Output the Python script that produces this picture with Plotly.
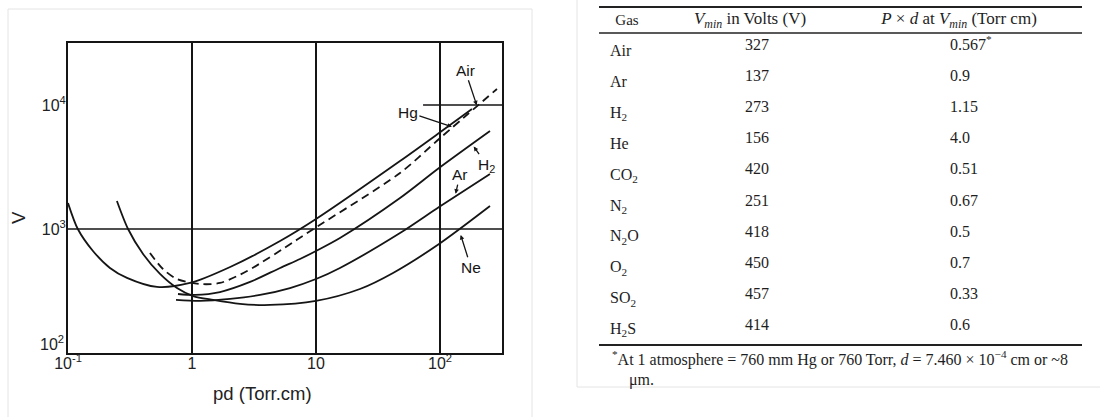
import numpy as np
import plotly.graph_objects as go

# ---------------- Paschen curves ----------------
air_pd = [0.10, 0.12, 0.159, 0.218, 0.299, 0.522, 0.963, 2.03, 5.13, 10.0, 47.6, 98.2, 181]
air_v = [1620, 1000, 665, 485, 403, 341, 367, 494, 800, 1204, 3535, 5946, 9284]

hg_pd = [0.458, 0.583, 0.757, 1.16, 1.68, 2.78, 6.77, 9.81, 47.6, 98.2, 288]
hg_v = [640, 476, 395, 360, 367, 458, 800, 1019, 2829, 5319, 13460]

h2_pd = [0.771, 1.057, 1.68, 2.94, 5.13, 7.43, 10.0, 15.6, 47.6, 98.2, 253]
h2_v = [299, 294, 310, 374, 485, 573, 665, 846, 1778, 3104, 6171]

ar_pd = [0.743, 1.16, 2.03, 3.54, 6.17, 10.0, 15.6, 47.6, 98.2, 253]
ar_v = [268, 263, 273, 294, 334, 395, 485, 928, 1504, 2776]

ne_pd = [0.248, 0.305, 0.403, 0.552, 0.757, 1.02, 1.48, 2.44, 4.26, 10.0, 22.6, 41.8, 98.2, 253]
ne_v = [1682, 1000, 628, 434, 334, 288, 268, 249, 244, 263, 328, 442, 757, 1532]

x_tickvals = [0.1, 1, 10, 100]
x_ticktext = ["10<sup>-1</sup>", "1", "10", "10<sup>2</sup>"]
y_tickvals = [1000, 10000]
y_ticktext = ["10<sup>3</sup>", "10<sup>4</sup>"]
y_bottom_label = "10<sup>2</sup>"

# ---------------- Table data ----------------
gases = ["Air", "Ar", "H<sub>2</sub>", "He", "CO<sub>2</sub>", "N<sub>2</sub>",
         "N<sub>2</sub>O", "O<sub>2</sub>", "SO<sub>2</sub>", "H<sub>2</sub>S"]
vmin_volts = [327, 137, 273, 156, 420, 251, 418, 450, 457, 414]
pd_at_vmin = ["0.567<sup>*</sup>", "0.9", "1.15", "4.0", "0.51", "0.67", "0.5", "0.7", "0.33", "0.6"]
headers = ["Gas", "<i>V</i><sub><i>min</i></sub> in Volts (V)",
           "<i>P</i> × <i>d</i> at <i>V</i><sub><i>min</i></sub> (Torr cm)"]
footnote_1 = "<sup>*</sup>At 1 atmosphere = 760 mm Hg or 760 Torr, <i>d</i> = 7.460 × 10<sup>−4</sup> cm or ~8"
footnote_2 = "μm."

W, H = 1100, 417
INK = "#151515"
SANS = "Liberation Sans, Arial, sans-serif"
SERIF = "Liberation Serif, Times New Roman, serif"

fig = go.Figure()

curves = [
    ("Air", air_pd, air_v, "solid"),
    ("Hg", hg_pd, hg_v, "8px,5px"),
    ("H2", h2_pd, h2_v, "solid"),
    ("Ar", ar_pd, ar_v, "solid"),
    ("Ne", ne_pd, ne_v, "solid"),
]
for name, xs, ys, dash in curves:
    fig.add_trace(go.Scatter(
        x=xs, y=ys, mode="lines", name=name,
        line=dict(color=INK, width=1.8, dash=dash, shape="spline", smoothing=0.8),
        xaxis="x", yaxis="y", showlegend=False, hoverinfo="skip"))

# ---------------- Table as text on a pixel-mapped helper axis ----------------
n = len(gases)
rows = np.arange(n)
name_y = 52 + 30.9 * rows
val_y = 45.5 + 31.2 * rows
tfont = dict(family=SERIF, size=16, color="#1e1e1e")
fig.add_trace(go.Scatter(x=[610] * n, y=name_y, text=gases, mode="text",
                         textposition="middle right", textfont=tfont,
                         xaxis="x2", yaxis="y2", showlegend=False, hoverinfo="skip"))
fig.add_trace(go.Scatter(x=[745] * n, y=val_y, text=[str(v) for v in vmin_volts], mode="text",
                         textposition="middle right", textfont=tfont,
                         xaxis="x2", yaxis="y2", showlegend=False, hoverinfo="skip"))
fig.add_trace(go.Scatter(x=[950] * n, y=val_y, text=pd_at_vmin, mode="text",
                         textposition="middle right", textfont=tfont,
                         xaxis="x2", yaxis="y2", showlegend=False, hoverinfo="skip"))
fig.add_trace(go.Scatter(x=[627, 750, 959], y=[21, 20, 20], text=headers, mode="text",
                         textposition="middle center",
                         textfont=dict(family=SERIF, size=[15, 17, 17], color="#1e1e1e"),
                         xaxis="x2", yaxis="y2", showlegend=False, hoverinfo="skip"))

shapes = []
# table rules
for yy, wdt in [(7, 2), (33, 1.5), (345, 2)]:
    shapes.append(dict(type="line", xref="x2", yref="y2", x0=599, x1=1082, y0=yy, y1=yy,
                       line=dict(color="#222", width=wdt)))
# faint image frames
frame = dict(color="#e4e4e4", width=1)
shapes += [
    dict(type="line", xref="x2", yref="y2", x0=8, x1=8, y0=9, y1=417, line=frame),
    dict(type="line", xref="x2", yref="y2", x0=8, x1=532, y0=9, y1=9, line=frame),
    dict(type="line", xref="x2", yref="y2", x0=532, x1=532, y0=9, y1=417, line=frame),
    dict(type="line", xref="x2", yref="y2", x0=577, x1=577, y0=0, y1=387, line=frame),
    dict(type="line", xref="x2", yref="y2", x0=577, x1=1100, y0=387, y1=387, line=frame),
]
# horizontal reference lines of the chart
y_lo, y_hi = 2, 4.5
x_lo, x_hi = -1, 2.5
shapes.append(dict(type="line", xref="x domain", yref="y domain", x0=0, x1=1,
                   y0=(3 - y_lo) / (y_hi - y_lo), y1=(3 - y_lo) / (y_hi - y_lo),
                   line=dict(color=INK, width=1.5)))
shapes.append(dict(type="line", xref="x domain", yref="y domain",
                   x0=(np.log10(73) - x_lo) / (x_hi - x_lo), x1=1,
                   y0=(4 - y_lo) / (y_hi - y_lo), y1=(4 - y_lo) / (y_hi - y_lo),
                   line=dict(color=INK, width=1.5)))


def on_curve(xs, ys, pd):
    return float(np.interp(np.log10(pd), np.log10(xs), np.log10(ys)))


annotations = []
labels = [
    ("Air", hg_pd, hg_v, 199, -12, -36, 1),
    ("Hg", hg_pd, hg_v, 127, -45, -15, 1),
    ("H<sub>2</sub>", h2_pd, h2_v, 181, 15, 21, 3),
    ("Ar", ar_pd, ar_v, 132, 5, -22, 3),
    ("Ne", ne_pd, ne_v, 142, 12, 38, 6),
]
for txt, xs, ys, pd, ax, ay, so in labels:
    annotations.append(dict(
        x=np.log10(pd), y=on_curve(xs, ys, pd), xref="x", yref="y",
        text=txt, showarrow=True, ax=ax, ay=ay, arrowhead=2, arrowsize=0.7,
        arrowwidth=1.3, arrowcolor=INK, standoff=so,
        font=dict(family=SANS, size=15.5, color=INK)))

annotations += [
    # bottom y tick label, sitting slightly above the x axis as in the original
    dict(x=0, y=0, xref="x domain", yref="y domain", text=y_bottom_label, showarrow=False,
         xanchor="right", yanchor="bottom", xshift=-2, yshift=-2,
         font=dict(family=SANS, size=16, color="#222")),
    dict(x=262, y=393, xref="x2", yref="y2", text="pd (Torr.cm)", showarrow=False,
         font=dict(family=SANS, size=18.5, color="#222")),
    dict(x=18, y=218, xref="x2", yref="y2", text="V", showarrow=False, textangle=-90,
         font=dict(family=SANS, size=18.5, color="#222")),
    dict(x=610, y=358, xref="x2", yref="y2", text=footnote_1, showarrow=False,
         xanchor="left", font=dict(family=SERIF, size=16, color="#1e1e1e")),
    dict(x=627, y=380, xref="x2", yref="y2", text=footnote_2, showarrow=False,
         xanchor="left", font=dict(family=SERIF, size=16, color="#1e1e1e")),
]

axis_common = dict(showline=True, linewidth=2, linecolor=INK, mirror=True, ticks="",
                   ticklen=0, zeroline=False, automargin=False,
                   tickfont=dict(family=SANS, size=16, color="#222"))

fig.update_layout(
    template="none",
    width=W, height=H, margin=dict(l=0, r=0, t=0, b=0, pad=0, autoexpand=False),
    paper_bgcolor="white", plot_bgcolor="rgba(0,0,0,0)",
    xaxis=dict(type="log", range=[x_lo, x_hi], domain=[68 / W, 502 / W], anchor="y",
               tickvals=x_tickvals, ticktext=x_ticktext, showgrid=True,
               gridcolor=INK, gridwidth=1.5, ticklabelstandoff=-5, **axis_common),
    yaxis=dict(type="log", range=[y_lo, y_hi], domain=[1 - 353 / H, 1 - 43 / H], anchor="x",
               tickvals=y_tickvals, ticktext=y_ticktext, showgrid=False,
               ticklabelstandoff=-3, **axis_common),
    xaxis2=dict(domain=[0, 1], range=[0, W], visible=False, anchor="y2", fixedrange=True,
                automargin=False),
    yaxis2=dict(domain=[0, 1], range=[H, 0], visible=False, anchor="x2", fixedrange=True,
                automargin=False),
    shapes=shapes, annotations=annotations, showlegend=False,
)

fig.write_html("out.html")
